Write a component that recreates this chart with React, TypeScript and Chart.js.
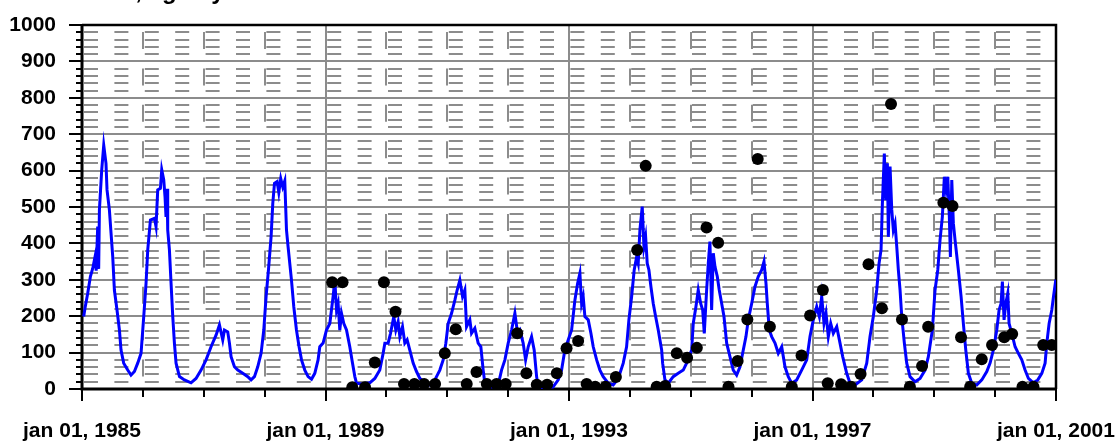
import React, { useEffect, useRef } from 'react';
import { Chart, registerables } from 'chart.js';

Chart.register(...registerables);

// ---- data ----
const titleText = 'Load, kg/day';
const labelPrefix = 'jan 01, ';
const labeledYears = [1985, 1989, 1993, 1997, 2001];

// [decimal year, value]
const flowSeries: [number, number][] = [
  [1985.028,199],[1985.049,222],[1985.094,263],[1985.138,309],[1985.176,331],[1985.214,363],[1985.233,325],[1985.258,446],[1985.274,330],[1985.286,492],[1985.324,602],[1985.357,670],[1985.394,620],[1985.411,547],[1985.450,492],[1985.477,428],[1985.505,363],[1985.532,272],[1985.575,217],[1985.615,162],[1985.641,107],[1985.685,71],[1985.751,52],[1985.805,38],[1985.861,48],[1985.915,71],[1985.970,98],
  [1986.014,199],[1986.052,290],[1986.080,382],[1986.124,464],[1986.190,469],[1986.216,446],[1986.244,547],[1986.288,551],[1986.310,602],[1986.343,574],[1986.364,528],[1986.380,473],[1986.397,550],[1986.408,437],[1986.436,382],[1986.463,290],[1986.491,199],[1986.518,126],[1986.545,71],[1986.601,34],[1986.683,25],[1986.791,17],[1986.873,29],[1986.956,52],
  [1987.038,80],[1987.120,116],[1987.202,148],[1987.258,176],[1987.312,135],[1987.340,162],[1987.394,157],[1987.422,126],[1987.449,89],[1987.504,61],[1987.559,52],[1987.641,43],[1987.723,34],[1987.777,25],[1987.833,34],[1987.887,61],[1987.942,98],[1987.986,162],
  [1988.024,254],[1988.063,327],[1988.106,418],[1988.134,510],[1988.162,565],[1988.205,570],[1988.233,540],[1988.265,578],[1988.298,555],[1988.331,572],[1988.359,437],[1988.385,391],[1988.441,299],[1988.479,226],[1988.523,162],[1988.566,116],[1988.606,80],[1988.660,52],[1988.714,34],[1988.770,27],[1988.824,43],[1988.878,80],[1988.906,116],[1988.961,126],
  [1989.016,162],[1989.071,180],[1989.125,254],[1989.153,299],[1989.181,217],[1989.207,235],[1989.235,162],[1989.263,208],[1989.301,180],[1989.345,162],[1989.399,116],[1989.444,71],[1989.482,34],[1989.509,16],[1989.592,14],[1989.728,17],[1989.810,29],[1989.892,52],[1989.947,98],[1989.975,126],
  [1990.029,126],[1990.068,153],[1990.122,199],[1990.155,162],[1990.193,185],[1990.221,144],[1990.265,171],[1990.303,126],[1990.341,135],[1990.385,107],[1990.440,71],[1990.495,48],[1990.550,29],[1990.632,20],[1990.714,11],[1990.768,16],[1990.824,34],[1990.878,52],[1990.933,80],[1990.977,126],
  [1991.015,180],[1991.071,208],[1991.125,244],[1991.163,272],[1991.207,299],[1991.251,254],[1991.289,272],[1991.317,171],[1991.371,190],[1991.399,153],[1991.453,167],[1991.508,126],[1991.552,116],[1991.590,52],[1991.618,16],[1991.728,6],[1991.836,11],[1991.892,52],[1991.947,80],
  [1992.001,126],[1992.057,162],[1992.111,208],[1992.155,153],[1992.193,162],[1992.247,126],[1992.287,80],[1992.330,116],[1992.385,144],[1992.428,107],[1992.468,34],[1992.494,6],[1992.604,2],[1992.740,6],[1992.823,25],[1992.878,52],[1992.932,107],[1992.987,135],
  [1993.043,162],[1993.097,244],[1993.141,290],[1993.179,318],[1993.207,235],[1993.233,254],[1993.261,199],[1993.316,190],[1993.360,153],[1993.398,116],[1993.454,80],[1993.508,52],[1993.562,34],[1993.644,16],[1993.726,11],[1993.809,29],[1993.891,71],[1993.946,116],[1993.984,190],
  [1994.029,254],[1994.071,327],[1994.111,363],[1994.137,345],[1994.165,437],[1994.203,501],[1994.231,391],[1994.259,418],[1994.285,345],[1994.313,327],[1994.346,281],[1994.384,235],[1994.423,199],[1994.466,162],[1994.522,107],[1994.538,71],[1994.576,25],[1994.630,16],[1994.712,34],[1994.794,43],[1994.877,52],[1994.932,71],
  [1995.015,107],[1995.041,180],[1995.085,226],[1995.123,272],[1995.163,235],[1995.196,217],[1995.222,153],[1995.261,272],[1995.288,345],[1995.315,405],[1995.343,217],[1995.370,373],[1995.398,336],[1995.436,309],[1995.468,272],[1995.508,235],[1995.546,199],[1995.590,126],[1995.644,89],[1995.698,52],[1995.754,38],[1995.809,61],[1995.863,107],[1995.907,144],[1995.945,190],
  [1996.001,235],[1996.055,281],[1996.109,309],[1996.165,327],[1996.203,350],[1996.236,290],[1996.257,235],[1996.290,162],[1996.329,144],[1996.384,126],[1996.438,98],[1996.494,116],[1996.548,61],[1996.602,34],[1996.658,16],[1996.740,25],[1996.822,52],[1996.905,80],[1996.959,144],
  [1997.013,190],[1997.069,226],[1997.112,199],[1997.151,254],[1997.189,180],[1997.222,208],[1997.260,144],[1997.299,180],[1997.342,153],[1997.398,171],[1997.452,126],[1997.496,89],[1997.562,43],[1997.616,16],[1997.698,11],[1997.809,25],[1997.891,71],[1997.945,144],[1997.999,199],
  [1998.055,272],[1998.093,345],[1998.126,382],[1998.148,510],[1998.180,647],[1998.203,519],[1998.230,620],[1998.246,418],[1998.274,611],[1998.302,492],[1998.328,437],[1998.356,455],[1998.384,391],[1998.410,327],[1998.438,272],[1998.466,199],[1998.509,126],[1998.548,71],[1998.602,34],[1998.684,20],[1998.767,29],[1998.849,52],[1998.903,89],[1998.969,162],
  [1999.013,272],[1999.058,327],[1999.095,409],[1999.133,473],[1999.166,583],[1999.194,547],[1999.222,583],[1999.248,473],[1999.265,363],[1999.288,574],[1999.314,455],[1999.342,409],[1999.396,327],[1999.441,254],[1999.478,180],[1999.518,107],[1999.561,43],[1999.616,16],[1999.698,11],[1999.781,25],[1999.863,48],[1999.917,71],[1999.971,107],
  [2000.027,162],[2000.065,217],[2000.098,235],[2000.119,295],[2000.147,190],[2000.175,235],[2000.208,263],[2000.229,180],[2000.274,153],[2000.328,116],[2000.382,98],[2000.438,80],[2000.492,52],[2000.547,29],[2000.629,17],[2000.701,25],[2000.767,43],[2000.821,71],[2000.849,126],[2000.887,180],[2000.931,217],[2000.959,254],[2000.997,300],
];

const sampleSeries: [number, number][] = [
  [1989.11,293],[1989.28,293],[1989.44,5],[1989.65,5],[1989.81,73],[1989.96,293],
  [1990.15,212],[1990.29,14],[1990.46,14],[1990.62,14],[1990.80,14],[1990.96,98],
  [1991.14,164],[1991.32,14],[1991.48,47],[1991.65,14],[1991.81,14],[1991.96,14],
  [1992.15,153],[1992.30,43],[1992.47,12],[1992.64,12],[1992.80,43],[1992.96,112],
  [1993.15,132],[1993.29,14],[1993.43,6],[1993.60,6],[1993.77,33],
  [1994.12,382],[1994.26,613],[1994.44,6],[1994.58,8],[1994.77,98],[1994.94,86],
  [1995.10,113],[1995.26,444],[1995.45,402],[1995.62,6],[1995.77,77],[1995.93,191],
  [1996.10,632],[1996.30,171],[1996.66,6],[1996.82,92],[1996.96,202],
  [1997.17,272],[1997.25,16],[1997.47,13],[1997.63,6],[1997.79,41],[1997.92,343],
  [1998.14,222],[1998.29,783],[1998.47,191],[1998.60,6],[1998.80,63],[1998.90,171],
  [1999.15,512],[1999.30,503],[1999.44,142],[1999.59,6],[1999.78,82],[1999.95,121],
  [2000.15,142],[2000.28,151],[2000.45,6],[2000.63,6],[2000.79,121],[2000.93,121],
];

const FONT = "'Liberation Sans', Arial, sans-serif";

const excelGrid = {
  id: 'excelGrid',
  beforeDatasetsDraw(chart: any) {
    const { ctx, chartArea: a, scales } = chart;
    const x = scales.x;
    const y = scales.y;
    ctx.save();
    ctx.lineCap = 'butt';
    for (const t of y.ticks) {
      const v = t.value;
      if (v <= 0 || v >= 1000) continue;
      const py = Math.round(y.getPixelForValue(v));
      ctx.beginPath();
      ctx.lineWidth = 2;
      ctx.strokeStyle = '#8c8c8c';
      if (v % 100 === 0) {
        ctx.setLineDash([]);
      } else {
        ctx.setLineDash([14, 16.4]);
        ctx.lineDashOffset = -2;
      }
      ctx.moveTo(a.left, py);
      ctx.lineTo(a.right, py);
      ctx.stroke();
    }
    for (const t of x.ticks) {
      const v = t.value;
      if (v <= 1985 || v >= 2001) continue;
      const px = Math.round(x.getPixelForValue(v));
      ctx.beginPath();
      ctx.lineWidth = 2;
      ctx.strokeStyle = '#8c8c8c';
      if ((v - 1985) % 4 === 0) {
        ctx.setLineDash([]);
      } else {
        ctx.setLineDash([17, 19.4]);
        ctx.lineDashOffset = 29.4;
      }
      ctx.moveTo(px, a.top);
      ctx.lineTo(px, a.bottom);
      ctx.stroke();
    }
    ctx.setLineDash([]);
    ctx.strokeStyle = '#000';
    ctx.lineWidth = 2;
    for (const t of y.ticks) {
      const py = Math.round(y.getPixelForValue(t.value));
      const len = t.value % 100 === 0 ? 13 : 6;
      ctx.beginPath();
      ctx.moveTo(a.left - len, py);
      ctx.lineTo(a.left, py);
      ctx.stroke();
    }
    for (const t of x.ticks) {
      const px = Math.round(x.getPixelForValue(t.value));
      const len = (t.value - 1985) % 4 === 0 ? 12 : 8;
      ctx.beginPath();
      ctx.moveTo(px, a.bottom);
      ctx.lineTo(px, a.bottom + len);
      ctx.stroke();
    }
    ctx.lineWidth = 2.5;
    ctx.beginPath();
    ctx.moveTo(a.left, a.top);
    ctx.lineTo(a.right, a.top);
    ctx.lineTo(a.right, a.bottom);
    ctx.stroke();
    ctx.lineWidth = 3;
    ctx.beginPath();
    ctx.moveTo(a.left, a.top - 1);
    ctx.lineTo(a.left, a.bottom);
    ctx.lineTo(a.right + 1, a.bottom);
    ctx.stroke();
    ctx.restore();
  },
  afterDraw(chart: any) {
    const { ctx } = chart;
    ctx.save();
    ctx.font = `bold 24px ${FONT}`;
    ctx.fillStyle = '#000';
    ctx.textBaseline = 'alphabetic';
    ctx.textAlign = 'left';
    ctx.fillText(titleText, 78, -1.5);
    ctx.restore();
  },
};

export default function App() {
  const ref = useRef<HTMLCanvasElement | null>(null);
  useEffect(() => {
    if (!ref.current) return;
    const chart = new Chart(ref.current, {
      type: 'scatter',
      data: {
        datasets: [
          {
            label: 'samples',
            data: sampleSeries.map(([x, y]) => ({ x, y })),
            backgroundColor: '#000',
            borderColor: '#000',
            pointRadius: 6,
            pointBorderWidth: 0,
            pointStyle: 'circle',
            showLine: false,
            order: 0,
          },
          {
            label: 'flow',
            data: flowSeries.map(([x, y]) => ({ x, y })),
            borderColor: '#0000ff',
            backgroundColor: '#0000ff',
            borderWidth: 3,
            pointRadius: 0,
            showLine: true,
            tension: 0,
            order: 1,
          },
        ],
      },
      options: {
        animation: false,
        responsive: false,
        devicePixelRatio: 1,
        layout: { padding: { top: 25, right: 59, left: 0, bottom: 0 } },
        plugins: { legend: { display: false }, tooltip: { enabled: false }, title: { display: false } },
        scales: {
          x: {
            type: 'linear',
            min: 1985,
            max: 2001,
            grid: { display: false, drawTicks: false },
            border: { display: false },
            ticks: {
              stepSize: 1,
              autoSkip: false,
              maxRotation: 0,
              minRotation: 0,
              padding: 30,
              color: '#000',
              font: { family: FONT, size: 21, weight: 'bold' },
              callback: (v: any) => (labeledYears.includes(Number(v)) ? labelPrefix + v : ''),
            },
            afterFit: (s: any) => {
              s.height = 54;
              s.paddingLeft = 0;
              s.paddingRight = 0;
            },
          },
          y: {
            type: 'linear',
            min: 0,
            max: 1000,
            grid: { display: false, drawTicks: false },
            border: { display: false },
            ticks: {
              stepSize: 20,
              autoSkip: false,
              padding: 26,
              color: '#000',
              font: { family: FONT, size: 21, weight: 'bold' },
              callback: (v: any) => (Number(v) % 100 === 0 ? String(v) : ''),
            },
            afterFit: (s: any) => {
              s.width = 82;
              s.paddingTop = 0;
              s.paddingBottom = 0;
            },
          },
        },
      },
      plugins: [excelGrid],
    } as any);
    return () => chart.destroy();
  }, []);
  return (
    <div style={{ position: 'absolute', left: 0, top: 0, width: 1115, height: 443, background: '#fff' }}>
      <canvas ref={ref} width={1115} height={443} style={{ display: 'block', width: 1115, height: 443 }} />
    </div>
  );
}
